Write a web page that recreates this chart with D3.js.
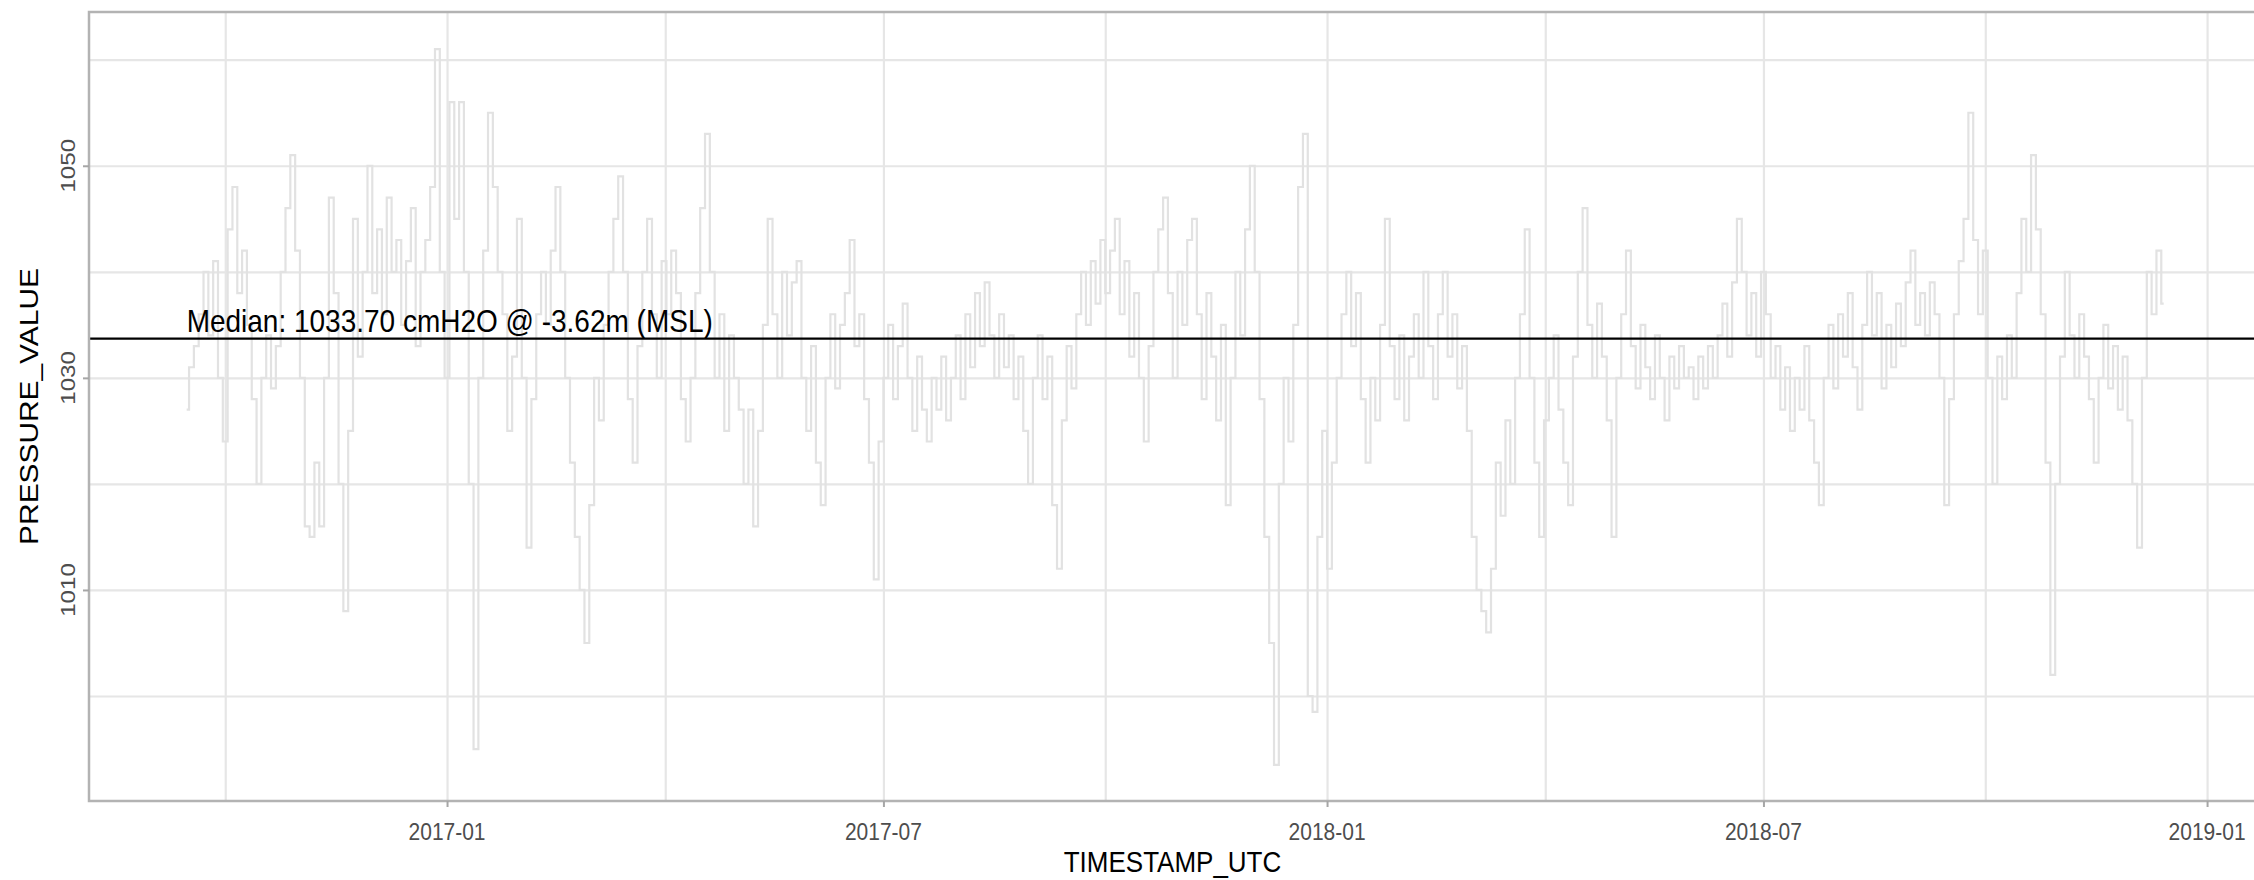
<!DOCTYPE html>
<html><head><meta charset="utf-8">
<script src="https://cdn.jsdelivr.net/npm/d3@7"></script>
<style>html,body{margin:0;padding:0;background:#fff;overflow:hidden;} svg{display:block;}</style>
</head><body><svg id="chart" width="2254" height="880"></svg>
<script>
// ---------------- data ----------------
const seriesStart = "2016-09-15";
const stepDays = 2;
const pressureValues = [
1027,1031,1033,1036,1040,1034,1041,1030,1024,1044,1048,1038,1042,1035,1028,1020,1030,1034,1029,1033,1040,1046,1051,1042,1030,1016,1015,1022,1016,1030,
1047,1038,1020,1008,1025,1045,1032,1040,1050,1038,1044,1036,1047,1040,1043,1035,1041,1046,1033,1040,1043,1048,1061,1040,1030,1056,1045,1056,1040,1020,
995,1030,1042,1055,1048,1040,1036,1025,1032,1045,1030,1014,1028,1036,1040,1035,1042,1048,1040,1030,1022,1015,1010,1005,1018,1030,1026,1035,1040,1045,
1049,1040,1028,1022,1033,1040,1045,1036,1030,1041,1036,1042,1038,1028,1024,1030,1038,1046,1053,1040,1030,1036,1025,1034,1030,1027,1020,1027,1016,1025,
1035,1045,1036,1030,1040,1034,1039,1041,1030,1025,1033,1022,1018,1030,1036,1029,1035,1038,1043,1033,1036,1028,1022,1011,1024,1030,1035,1028,1033,1037,
1030,1025,1032,1027,1024,1030,1027,1032,1026,1030,1034,1028,1036,1031,1038,1033,1039,1034,1030,1036,1031,1034,1028,1032,1025,1020,1030,1034,1028,1032,
1018,1012,1026,1033,1029,1036,1040,1035,1041,1037,1043,1038,1042,1045,1036,1041,1032,1038,1030,1024,1033,1040,1044,1047,1038,1030,1040,1035,1043,1045,
1036,1028,1038,1032,1026,1035,1018,1030,1040,1034,1044,1050,1040,1028,1015,1005,993.5,1020,1030,1024,1035,1048,1053,1000,998.5,1015,1025,1012,1022,1030,
1036,1040,1033,1038,1028,1022,1030,1026,1035,1045,1033,1028,1034,1026,1032,1036,1030,1040,1033,1028,1036,1040,1032,1036,1029,1033,1025,1015,1010,1008,
1006,1012,1022,1017,1026,1020,1030,1036,1044,1030,1022,1015,1026,1030,1034,1027,1022,1018,1032,1040,1046,1035,1030,1037,1032,1026,1015,1030,1036,1042,
1033,1029,1035,1031,1028,1034,1030,1026,1032,1029,1033,1030,1031,1028,1032,1029,1033,1030,1034,1037,1032,1039,1045,1040,1034,1038,1032,1040,1036,1030,
1033,1027,1031,1025,1030,1027,1033,1026,1022,1018,1030,1035,1029,1036,1032,1038,1031,1027,1035,1040,1034,1038,1029,1035,1031,1037,1033,1039,1042,1035,
1038,1034,1039,1036,1030,1018,1028,1036,1041,1045,1055,1043,1036,1042,1030,1020,1032,1028,1034,1030,1038,1045,1040,1051,1044,1036,1022,1002,1020,1032,
1040,1034,1030,1036,1032,1028,1022,1030,1035,1029,1033,1027,1032,1026,1020,1014,1030,1040,1036,1042,1037
];
const medianValue = 1033.70;
const medianLabel = "Median: 1033.70 cmH2O @ -3.62m (MSL)";
const xMajorBreaks = ["2016-07-01","2017-01-01","2017-07-01","2018-01-01","2018-07-01","2019-01-01","2019-07-01"];
const yMajorBreaks = [990, 1010, 1030, 1050, 1070];
const xDomain = ["2016-08-05T12:00:00","2019-01-21T07:00:00"];
const yDomain = [990.1, 1064.5];
const xTitle = "TIMESTAMP_UTC";
const yTitle = "PRESSURE_VALUE";

// ---------------- layout ----------------
const SY = 1.15;               // vertical glyph stretch of the reference
const panel = {left: 89, top: 12, right: 2256, bottom: 801};
const parse = d3.utcParse("%Y-%m-%dT%H:%M:%S");
const parseDay = d3.utcParse("%Y-%m-%d");
const fmt = d3.utcFormat("%Y-%m");

const x = d3.scaleUtc().domain(xDomain.map(parse)).range([panel.left, panel.right]);
const y = d3.scaleLinear().domain(yDomain).range([panel.bottom, panel.top]);

const start = parseDay(seriesStart);
const data = pressureValues.map((v, i) => ({date: d3.utcDay.offset(start, i * stepDays), value: v}));

const majorDates = xMajorBreaks.map(parseDay);
const minorDates = d3.pairs(majorDates).map(([a, b]) => new Date((+a + +b) / 2));
const yMinor = d3.pairs(yMajorBreaks).map(([a, b]) => (a + b) / 2);

const inX = d => x(d) >= panel.left && x(d) <= panel.right;
const inY = v => y(v) >= panel.top && y(v) <= panel.bottom;
const xMajorIn = majorDates.filter(inX);
const xMinorIn = minorDates.filter(inX);
const yMajorIn = yMajorBreaks.filter(inY);
const yMinorIn = yMinor.filter(inY);

const svg = d3.select("#chart");
const W = panel.right - panel.left, H = panel.bottom - panel.top;

svg.append("defs").append("clipPath").attr("id", "clip")
  .append("rect").attr("x", panel.left).attr("y", panel.top).attr("width", W).attr("height", H);

svg.append("rect").attr("x", panel.left).attr("y", panel.top).attr("width", W).attr("height", H).attr("fill", "#fff");

const gridColor = "#e6e6e6";
const gx = svg.append("g").attr("transform", `translate(0,${panel.bottom})`)
  .call(d3.axisBottom(x).tickValues(xMinorIn.concat(xMajorIn)).tickSize(-H).tickFormat(""));
gx.select(".domain").remove();
gx.selectAll("line").attr("stroke", gridColor).attr("stroke-width", 2.2);

const gy = svg.append("g").attr("transform", `translate(${panel.left},0)`)
  .call(d3.axisLeft(y).tickValues(yMinorIn.concat(yMajorIn)).tickSize(-W).tickFormat(""));
gy.select(".domain").remove();
gy.selectAll("line").attr("stroke", gridColor).attr("stroke-width", 2.2);

// data line (stepped, like the dense hourly record)
const line = d3.line().curve(d3.curveStep).x(d => x(d.date)).y(d => y(d.value));
svg.append("path").datum(data).attr("clip-path", "url(#clip)")
  .attr("fill", "none").attr("stroke", "#e2e2e2").attr("stroke-width", 2.2)
  .attr("d", line);

// median line
svg.append("line").attr("x1", panel.left).attr("x2", panel.right)
  .attr("y1", y(medianValue)).attr("y2", y(medianValue))
  .attr("stroke", "#000").attr("stroke-width", 2.4);

const font = "Liberation Sans, Arial, sans-serif";
svg.append("text")
  .attr("transform", `translate(${x(data[0].date)},${y(medianValue) - 7}) scale(1,${SY})`)
  .attr("font-family", font).attr("font-size", 28)
  .attr("fill", "#000").text(medianLabel);

// panel border
svg.append("rect").attr("x", panel.left).attr("y", panel.top).attr("width", W).attr("height", H)
  .attr("fill", "none").attr("stroke", "#b3b3b3").attr("stroke-width", 2.5);

// axis ticks
const ax = svg.append("g").attr("transform", `translate(0,${panel.bottom})`)
  .call(d3.axisBottom(x).tickValues(xMajorIn).tickSize(6).tickFormat(""));
ax.select(".domain").remove();
ax.selectAll("line").attr("stroke", "#a6a6a6").attr("stroke-width", 2);

const ay = svg.append("g").attr("transform", `translate(${panel.left},0)`)
  .call(d3.axisLeft(y).tickValues(yMajorIn).tickSize(6).tickFormat(""));
ay.select(".domain").remove();
ay.selectAll("line").attr("stroke", "#a6a6a6").attr("stroke-width", 2);

// tick labels
svg.append("g").selectAll("text").data(xMajorIn).join("text")
  .attr("transform", d => `translate(${x(d)},840) scale(1,${SY})`)
  .attr("text-anchor", "middle").attr("font-family", font).attr("font-size", 21)
  .attr("fill", "#4d4d4d").text(d => fmt(d));

svg.append("g").selectAll("text").data(yMajorIn).join("text")
  .attr("transform", d => `translate(75,${y(d)}) scale(1,${SY}) rotate(-90)`)
  .attr("text-anchor", "middle").attr("font-family", font).attr("font-size", 21)
  .attr("fill", "#4d4d4d").text(d => d3.format("d")(d));

// axis titles
svg.append("text")
  .attr("transform", `translate(${(panel.left + panel.right) / 2},872) scale(1,${SY})`)
  .attr("text-anchor", "middle").attr("font-family", font).attr("font-size", 26)
  .attr("fill", "#000").text(xTitle);

svg.append("text")
  .attr("transform", `translate(38,${(panel.top + panel.bottom) / 2}) scale(1,${SY}) rotate(-90)`)
  .attr("text-anchor", "middle").attr("font-family", font).attr("font-size", 26)
  .attr("fill", "#000").text(yTitle);
</script>
</body></html>
